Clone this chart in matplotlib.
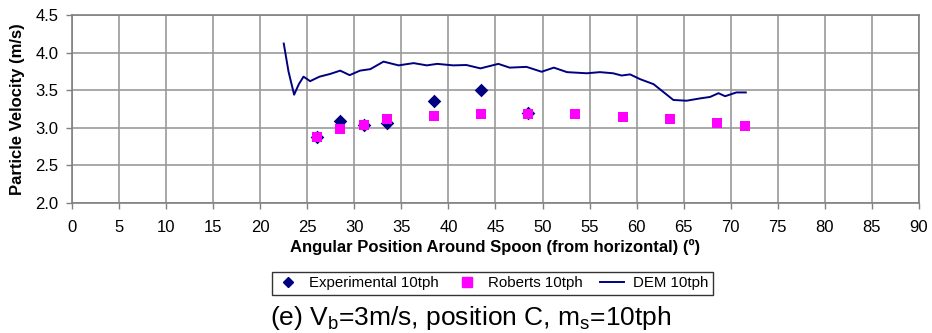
import matplotlib
matplotlib.use("Agg")
import matplotlib.pyplot as plt
from matplotlib.lines import Line2D

plt.rcParams['font.family'] = ['Liberation Sans', 'DejaVu Sans']
plt.rcParams['mathtext.fontset'] = 'custom'
plt.rcParams['mathtext.rm'] = 'Liberation Sans'
plt.rcParams['mathtext.it'] = 'Liberation Sans:italic'
plt.rcParams['mathtext.bf'] = 'Liberation Sans:bold'

# Data
exp_x = [26.0, 28.5, 31.0, 33.5, 38.5, 43.5, 48.5]
exp_y = [2.88, 3.09, 3.04, 3.07, 3.35, 3.50, 3.20]

rob_x = [26.0, 28.5, 31.0, 33.5, 38.5, 43.5, 48.5, 53.5, 58.5, 63.5, 68.5, 71.5]
rob_y = [2.88, 2.98, 3.04, 3.12, 3.16, 3.18, 3.19, 3.18, 3.15, 3.12, 3.06, 3.02]

dem_x = [22.5, 23.0, 23.6, 24.1, 24.6, 25.3, 26.3, 27.4, 28.5, 29.5, 30.6, 31.7,
         33.1, 34.7, 36.3, 37.7, 38.8, 40.5, 41.9, 43.4, 45.3, 46.5, 48.3, 49.9,
         51.2, 52.6, 54.7, 56.1, 57.5, 58.4, 59.3, 60.4, 61.8, 62.8, 63.9, 65.3,
         66.7, 67.8, 68.7, 69.4, 70.6, 71.6]
dem_y = [4.12, 3.75, 3.44, 3.58, 3.68, 3.62, 3.68, 3.715, 3.76, 3.70, 3.76, 3.78,
         3.88, 3.83, 3.86, 3.83, 3.85, 3.83, 3.835, 3.79, 3.85, 3.80, 3.81, 3.745,
         3.80, 3.74, 3.725, 3.74, 3.725, 3.695, 3.71, 3.645, 3.58, 3.48, 3.37, 3.36,
         3.39, 3.41, 3.46, 3.42, 3.47, 3.47]

x_ticks = list(range(0, 91, 5))
y_ticks = [2.0, 2.5, 3.0, 3.5, 4.0, 4.5]

navy = '#000080'
magenta = '#FF00FF'
gridc = '#999999'

fig = plt.figure(figsize=(9.32, 3.33), dpi=100)
ax = fig.add_axes([0.0773, 0.3904, 0.9087, 0.5646])

ax.plot(dem_x, dem_y, color=navy, lw=1.4, zorder=3)
ax.scatter(exp_x, exp_y, marker='D', s=48, color=navy, zorder=4, linewidths=0)
ax.scatter(rob_x, rob_y, marker='s', s=44, color=magenta, zorder=5, linewidths=0)

ax.set_xlim(0, 90)
ax.set_ylim(2.0, 4.5)
ax.set_xticks(x_ticks)
ax.set_yticks(y_ticks)
ax.set_xticklabels([str(t) for t in x_ticks], fontsize=12)
ax.set_yticklabels([f"{t:.1f}" for t in y_ticks], fontsize=12)
ax.grid(True, color=gridc, lw=1.2)
ax.set_axisbelow(True)
for s in ax.spines.values():
    s.set_color('#808080')
    s.set_linewidth(1.2)
ax.tick_params(direction='out', length=4, color='#808080', width=1)
ax.tick_params(axis='x', pad=8)
ax.tick_params(axis='y', pad=6)

ax.set_xlabel('Angular Position Around Spoon (from horizontal) (º)', fontsize=12,
              fontweight='bold', labelpad=3)
ax.set_ylabel('Particle Velocity (m/s)', fontsize=12, fontweight='bold', labelpad=7)

handles = [
    Line2D([], [], marker='D', color=navy, ls='none', markersize=5.5),
    Line2D([], [], marker='s', color=magenta, ls='none', markersize=6.5),
    Line2D([], [], color=navy, lw=1.4),
]
labels = ['Experimental 10tph', 'Roberts 10tph', 'DEM 10tph']
leg = fig.legend(handles, labels, loc='center', bbox_to_anchor=(0.528, 0.15),
                 ncol=3, fontsize=10.8, frameon=True, fancybox=False,
                 edgecolor='black', handlelength=1.6, handletextpad=0.6,
                 columnspacing=1.1, borderpad=0.3, borderaxespad=0)
leg.get_frame().set_linewidth(1.0)

fig.text(0.505, 0.045, r'(e) V$_\mathrm{b}$=3m/s, position C, m$_\mathrm{s}$=10tph',
         ha='center', va='center', fontsize=19)

fig.savefig('out.png', dpi=100)
